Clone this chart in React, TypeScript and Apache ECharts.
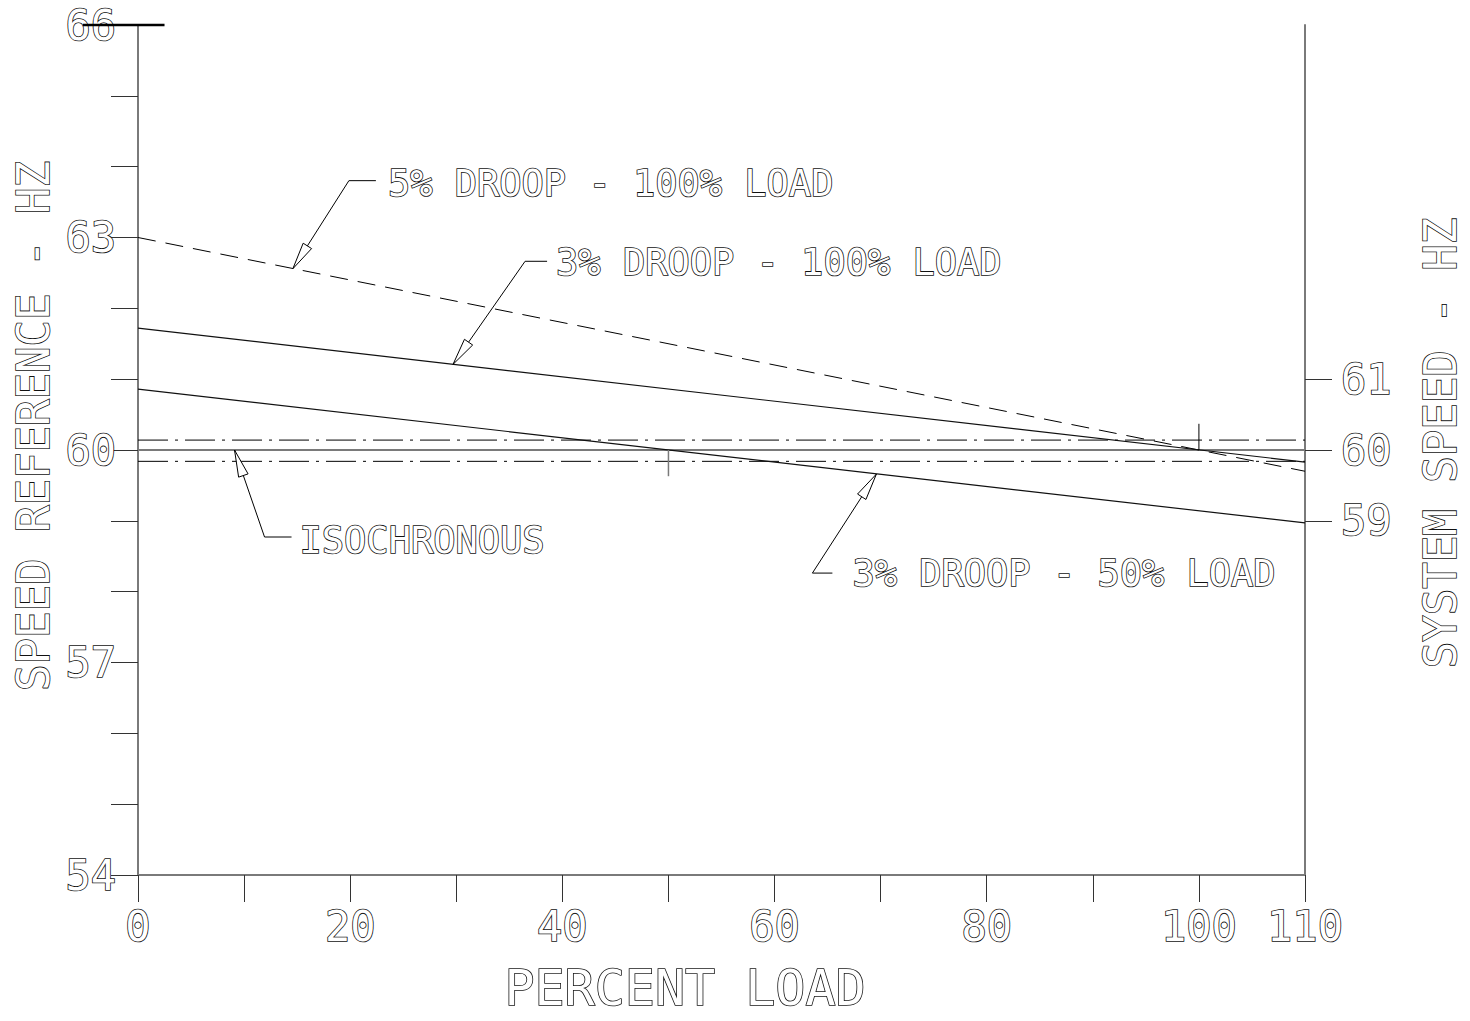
import React, { useEffect, useRef } from "react";
import * as echarts from "echarts";

// ---------- data ----------
const xLabelValues = [0, 20, 40, 60, 80, 100, 110];
const leftLabelValues = [54, 57, 60, 63, 66];
const rightTickValues = [59, 60, 61];

const droop5Full = [[0, 63], [110, 59.7]];
const droop3Full = [[0, 61.72], [110, 59.83]];
const droop3Half = [[0, 60.86], [110, 58.97]];
const isochronous = [[0, 60], [110, 60]];
const isoBandUpper = [[0, 60.14], [110, 60.14]];
const isoBandLower = [[0, 59.84], [110, 59.84]];
const marker50 = [[50, 60], [50, 59.63]];
const marker100 = [[100, 60], [100, 60.37]];
const topRule = [[-5.2, 66, 2.5, 66]];

const annotationLabels = [
  "5% DROOP - 100% LOAD",
  "3% DROOP - 100% LOAD",
  "ISOCHRONOUS",
  "3% DROOP - 50% LOAD",
];
const annotationTips = [
  [14.6, 62.56],
  [29.7, 61.21],
  [9.1, 60],
  [69.6, 59.66],
];

// ---------- layout (pixels) ----------
const annotationLayout = [
  { dx: 56, dy: -88, run: 27, gap: 12, ty: 3 },
  { dx: 72, dy: -103, run: 22, gap: 9, ty: 1 },
  { dx: 30, dy: 87, run: 27, gap: 8, ty: 3 },
  { dx: -64, dy: 99, run: 20, gap: 20, ty: 0 },
];

const FONT = "'DejaVu Sans Mono', monospace";
const AXIS_GRAY = "#7a7a7a";
const INK = "#111";
const hollow = (size: number) => ({
  color: "#ffffff",
  textBorderColor: INK,
  textBorderWidth: 1.6,
  fontSize: size,
  fontFamily: FONT,
});
const hollowStyle = (size: number) => ({
  fill: "#ffffff",
  stroke: INK,
  lineWidth: 1.6,
  fontSize: size,
  fontFamily: FONT,
});

function lineSeries(data: number[][], color: string, width: number, type: any, yAxisIndex = 0) {
  return {
    type: "line",
    data,
    yAxisIndex,
    symbol: "none",
    silent: true,
    clip: false,
    lineStyle: { color, width, type },
    z: 3,
  };
}

export default function App() {
  const ref = useRef<HTMLDivElement>(null);
  useEffect(() => {
    if (!ref.current) return;
    const chart = echarts.init(ref.current, null, { renderer: "svg" });
    const option: any = {
      animation: false,
      backgroundColor: "#ffffff",
      grid: { left: 138, right: 165, top: 25, bottom: 146 },
      xAxis: {
        type: "value",
        min: 0,
        max: 110,
        interval: 10,
        splitLine: { show: false },
        axisLine: { show: true, lineStyle: { color: AXIS_GRAY, width: 2 } },
        axisTick: { show: true, length: 27, lineStyle: { color: "#333", width: 1 } },
        axisLabel: {
          ...hollow(42),
          margin: 30,
          formatter: (v: number) => (xLabelValues.includes(v) ? String(v) : ""),
        },
      },
      yAxis: [
        {
          type: "value",
          position: "left",
          min: 54,
          max: 66,
          interval: 1,
          splitLine: { show: false },
          axisLine: { show: true, lineStyle: { color: AXIS_GRAY, width: 2 } },
          axisTick: { show: true, length: 27, lineStyle: { color: "#333", width: 1 } },
          axisLabel: {
            ...hollow(42),
            margin: 22,
            formatter: (v: number) => (leftLabelValues.includes(v) ? String(v) : ""),
          },
        },
        {
          type: "value",
          position: "right",
          min: 54,
          max: 66,
          interval: 1,
          splitLine: { show: false },
          axisLine: { show: true, lineStyle: { color: AXIS_GRAY, width: 2 } },
          axisTick: {
            show: true,
            length: 27,
            customValues: rightTickValues,
            lineStyle: { color: "#333", width: 1 },
          },
          axisLabel: {
            ...hollow(42),
            margin: 36,
            customValues: rightTickValues,
          },
        },
      ],
      graphic: [
        {
          type: "text",
          x: 33,
          y: 426,
          rotation: Math.PI / 2,
          style: { ...hollowStyle(44), text: "SPEED REFERENCE - HZ", align: "center", verticalAlign: "middle" },
        },
        {
          type: "text",
          x: 1440,
          y: 443,
          rotation: Math.PI / 2,
          style: { ...hollowStyle(44), text: "SYSTEM SPEED - HZ", align: "center", verticalAlign: "middle" },
        },
        {
          type: "text",
          x: 685,
          y: 988,
          style: { ...hollowStyle(50), text: "PERCENT LOAD", align: "center", verticalAlign: "middle" },
        },
      ],
      series: [
        lineSeries(isochronous, AXIS_GRAY, 2, "solid"),
        lineSeries(isoBandUpper, "#000", 1, [30, 7, 3, 7]),
        lineSeries(isoBandLower, "#000", 1, [30, 7, 3, 7]),
        lineSeries(droop5Full, "#000", 1, [18, 10]),
        lineSeries(droop3Full, "#111", 1.2, "solid"),
        lineSeries(droop3Half, "#111", 1.2, "solid"),
        lineSeries(marker50, AXIS_GRAY, 1.5, "solid"),
        lineSeries(marker100, "#000", 1, "solid"),
        {
          type: "custom",
          coordinateSystem: "cartesian2d",
          clip: false,
          silent: true,
          z: 6,
          data: topRule,
          renderItem: (params: any, api: any) => {
            const a = api.coord([api.value(0), api.value(1)]);
            const b = api.coord([api.value(2), api.value(3)]);
            return {
              type: "line",
              shape: { x1: a[0], y1: a[1], x2: b[0], y2: b[1] },
              style: { stroke: "#000", lineWidth: 2.5 },
            };
          },
        },
        {
          type: "custom",
          coordinateSystem: "cartesian2d",
          clip: false,
          silent: true,
          z: 5,
          data: annotationTips,
          renderItem: (params: any, api: any) => {
            const i = params.dataIndex;
            const tip = api.coord([api.value(0), api.value(1)]);
            const L = annotationLayout[i];
            const elbow = [tip[0] + L.dx, tip[1] + L.dy];
            const end = [elbow[0] + L.run, elbow[1]];
            const ang = Math.atan2(elbow[1] - tip[1], elbow[0] - tip[0]);
            const len = 27;
            const hw = 5;
            const bx = tip[0] + Math.cos(ang) * len;
            const by = tip[1] + Math.sin(ang) * len;
            const px = -Math.sin(ang) * hw;
            const py = Math.cos(ang) * hw;
            return {
              type: "group",
              children: [
                {
                  type: "polyline",
                  shape: { points: [tip, elbow, end] },
                  style: { stroke: "#000", lineWidth: 1, fill: null },
                },
                {
                  type: "polygon",
                  shape: { points: [tip, [bx + px, by + py], [bx - px, by - py]] },
                  style: { fill: "#ffffff", stroke: "#000", lineWidth: 1 },
                },
                {
                  type: "text",
                  x: end[0] + L.gap,
                  y: elbow[1] + L.ty,
                  style: {
                    ...hollowStyle(37),
                    text: annotationLabels[i],
                    align: "left",
                    verticalAlign: "middle",
                  },
                },
              ],
            };
          },
        },
      ],
    };
    chart.setOption(option);
    return () => chart.dispose();
  }, []);
  return (
    <div
      ref={ref}
      style={{ position: "absolute", left: 0, top: 0, width: 1470, height: 1021, background: "#fff" }}
    />
  );
}
